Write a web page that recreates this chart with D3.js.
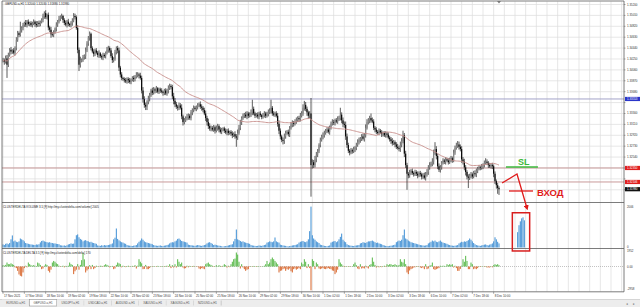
<!DOCTYPE html>
<html>
<head>
<meta charset="utf-8">
<script src="https://cdn.jsdelivr.net/npm/d3@7"></script>
<style>
  html, body { margin: 0; padding: 0; background: #fff; }
  svg { display: block; font-family: "Liberation Sans", "DejaVu Sans", sans-serif; }
</style>
</head>
<body>
<div class="chart"></div>
<script>
// GBPUSD H1 closes, in pips above 1.30000 (bar 0 = 17 Nov 02:00)
var closes = [
  423,420,426,415,432,441,438,440,436,444,458,470,467,476,479,484,488,485,490,486,488,484,
  487,490,486,484,488,486,490,493,500,505,498,502,480,476,468,467,472,478,485,490,495,498,500,493,
  488,485,490,486,484,488,492,500,498,479,441,415,423,423,428,430,440,452,462,469,444,438,434,440,
  436,432,435,430,428,432,430,436,441,444,440,430,423,425,437,444,440,410,398,392,390,388,386,390,
  388,385,389,392,390,394,397,398,396,392,370,355,345,342,350,356,362,370,366,372,370,374,368,372,
  370,368,366,370,365,370,374,378,376,360,352,346,342,340,344,340,325,315,318,322,324,326,322,332,
  336,340,338,342,344,346,342,340,336,330,322,315,308,304,305,302,306,300,304,308,302,298,302,304,
  300,297,300,296,298,295,292,294,290,288,296,305,315,322,326,328,325,330,326,328,332,338,330,326,
  328,325,330,327,324,328,330,326,329,332,335,340,330,328,330,326,312,300,290,284,282,290,296,298,
  294,305,310,314,312,316,318,322,320,326,330,340,345,338,332,326,330,240,245,240,250,258,264,275,
  284,290,292,296,300,302,298,306,312,315,314,318,316,320,322,328,318,312,310,290,275,265,262,266,
  264,268,270,275,280,284,286,290,286,292,305,315,318,322,318,316,305,302,298,296,300,297,294,296,
  292,295,293,288,285,282,278,280,276,272,270,268,275,282,292,260,240,225,222,228,230,226,224,228,
  225,222,226,224,220,222,218,224,228,236,240,242,246,262,268,256,238,232,236,244,248,246,250,248,
  245,250,252,248,262,270,274,276,272,268,250,246,236,228,220,218,222,224,220,226,224,230,234,236,
  235,238,240,244,246,244,240,238,240,238,225,212,205,200,198
];

// wick lengths above / below the body, pips
var upperWicks = [
  4,3,5,6,4,3,5,2,4,3,5,4,3,14,3,4,2,5,3,4,2,3,
  3,4,2,5,3,4,2,3,4,3,5,2,4,3,5,4,3,2,4,3,5,3,4,2,
  3,4,3,5,2,3,4,5,4,3,5,4,6,3,4,3,5,4,3,4,2,3,4,3,
  4,3,5,2,3,4,3,2,5,4,3,4,5,3,4,3,4,5,3,4,2,3,4,3,
  3,4,2,3,4,3,5,4,3,5,4,6,5,4,3,5,4,3,5,4,3,4,2,3,
  3,4,2,3,4,3,5,4,3,4,6,5,4,3,5,4,6,3,4,3,5,4,3,4,
  3,4,3,2,4,3,5,4,3,4,5,4,6,5,4,3,4,3,5,4,3,4,3,2,
  3,4,3,4,2,3,4,3,5,4,6,5,4,3,4,3,5,4,3,4,5,16,4,3,
  3,4,3,4,2,3,4,3,4,5,4,14,3,4,3,4,5,6,4,3,4,5,4,3,
  4,3,5,4,3,4,5,3,4,5,4,6,7,5,4,3,4,27,5,4,6,5,4,3,
  4,3,5,4,3,4,5,3,4,5,4,3,4,5,4,12,4,5,4,6,5,4,3,4,
  3,4,3,4,5,4,3,4,5,4,6,5,4,4,8,5,4,3,4,3,4,3,4,3,
  3,4,3,4,3,4,5,4,3,4,5,4,6,5,8,4,5,4,3,4,3,4,3,4,
  3,4,3,4,3,4,5,4,5,4,5,4,6,5,12,5,4,5,4,3,4,3,4,3,
  4,3,4,3,5,4,5,6,5,4,5,4,5,4,3,4,3,4,3,4,5,4,3,4,
  3,4,3,4,6,4,3,4,3,4,3,4,3,4,3
];
var lowerWicks = [
  4,5,3,23,4,3,5,4,3,5,4,3,4,3,5,4,3,4,5,3,4,3,
  4,3,5,4,3,5,4,3,4,5,3,4,5,4,6,3,4,3,5,4,3,4,3,5,
  4,3,5,4,3,4,5,3,4,3,6,11,5,4,3,4,5,3,4,5,4,3,5,4,
  3,4,5,3,4,5,3,4,3,5,4,3,5,4,3,4,5,6,5,4,3,4,3,4,
  5,3,4,3,5,4,3,4,5,3,5,6,5,6,6,4,5,3,4,3,5,4,3,4,
  4,3,5,4,3,4,5,3,4,5,6,5,4,5,4,3,5,6,4,3,4,5,3,4,
  5,4,3,4,5,3,4,5,4,3,5,6,5,4,5,3,4,5,3,4,5,3,4,3,
  4,3,5,4,3,4,5,3,4,16,4,3,4,5,3,4,3,5,4,3,4,5,3,4,
  3,4,5,3,4,3,5,4,3,4,3,5,4,3,4,3,5,6,5,4,6,5,4,3,
  4,5,3,4,5,3,4,3,5,4,3,4,5,4,6,5,4,55,6,5,4,5,4,3,
  4,3,5,4,3,4,3,5,4,3,4,5,3,4,3,4,5,6,5,6,5,4,5,3,
  4,3,5,4,3,4,5,4,3,5,4,3,4,5,4,3,4,5,4,3,4,3,5,4,
  3,4,5,3,4,5,4,3,5,4,3,4,5,4,4,6,5,28,5,4,5,3,4,3,
  4,5,3,4,5,4,3,5,4,5,4,3,4,5,4,6,5,4,5,4,3,4,5,3,
  4,3,5,4,3,4,3,4,5,4,6,5,5,6,5,18,4,5,4,3,4,5,4,3,
  4,3,5,4,3,4,5,3,4,5,6,5,6,10,10
];

// CLUSTERDELTA VOLUME per bar
var volumes = [
  150,120,180,200,160,220,400,590,300,340,280,260,300,440,400,360,300,
  220,200,180,160,150,140,130,120,150,140,160,250,320,340,300,280,260,
  240,260,230,220,200,200,180,170,160,110,100,90,100,80,110,150,170,200,180,190,
  400,600,640,500,420,380,300,340,360,320,300,260,280,240,220,200,180,
  100,90,80,110,90,120,100,110,120,140,160,200,400,480,930,
  420,350,300,260,240,200,180,120,100,90,80,70,90,100,120,
  200,280,340,440,380,300,260,240,220,200,180,160,
  120,100,90,80,90,100,80,70,90,100,120,140,200,240,260,250,300,340,
  420,440,380,320,300,280,260,240,
  140,120,110,100,90,80,100,120,110,90,80,100,120,140,200,240,260,220,180,
  120,140,120,100,90,80,60,50,60,70,80,100,120,140,160,300,420,880,
  400,360,320,280,300,260,240,220,200,180,
  120,100,90,80,70,80,100,90,80,100,120,140,240,260,300,280,260,300,490,300,260,240,
  140,120,100,90,80,60,50,70,80,100,110,120,140,160,
  240,280,300,320,280,260,300,400,800,2000,600,440,380,300,260,220,
  140,120,100,80,70,60,80,100,240,280,300,320,260,300,400,520,680,380,300,260,
  160,120,100,90,80,70,90,100,110,120,200,220,260,240,220,260,300,300,320,340,300,
  260,220,240,200,180,160,120,100,80,70,60,80,90,100,120,140,260,300,340,320,380,600,880,
  440,400,340,300,260,240,220,200,180,160,140,120,110,100,90,100,120,
  200,240,280,340,300,340,280,260,300,340,280,240,220,200,180,
  140,120,100,90,80,90,100,120,200,240,280,260,300,280,320,360,440,380,300,
  220,160,120,100,90,80,100,120,140,150,120,100,140,160,200,300,500,400,280,200
];

// CLUSTERDELTA DELTA per bar
var deltas = [
  170,100,200,500,300,290,400,290,200,-100,-200,-545,-1000,-1170,-1250,-750,-200,100,-100,
  500,300,170,100,170,100,50,500,400,200,-335,-250,100,290,200,-545,-750,-400,
  500,700,600,400,300,100,-50,50,100,-100,80,60,100,500,300,200,-960,-600,-400,
  300,-400,200,800,1680,900,-750,-500,-335,170,-335,200,-335,-200,100,
  50,-50,100,80,-60,170,290,200,100,-100,50,80,-335,-250,200,500,400,300,-100,100,
  50,-80,60,100,-50,40,80,-60,170,-250,100,920,600,400,-335,-300,200,-335,-335,-200,
  50,-40,60,30,-50,80,40,-30,60,50,-40,70,100,-60,290,-200,170,-125,290,-125,
  920,600,300,500,-125,-250,-200,100,-100,80,50,-60,80,-40,30,-50,-250,-335,-200,-250,
  -335,290,400,500,290,200,100,-50,60,170,50,170,80,-60,100,290,170,-125,100,-80,
  290,600,920,1000,1760,1500,600,-250,290,-125,-335,-545,-400,-335,
  -60,50,-40,70,50,-50,60,40,-30,30,50,100,290,700,290,500,920,1130,920,700,500,290,
  -750,-545,-500,-335,-250,-545,-335,-400,-250,-600,-750,-335,-250,-400,-300,-200,
  -335,500,290,920,600,-200,300,-200,-3000,920,700,-335,500,290,
  -250,-335,-250,-200,-300,-335,-250,-200,-300,-335,-500,-545,-960,-750,-400,
  920,500,290,100,-60,50,40,-40,60,-30,40,290,500,170,-250,-335,290,-250,-200,-250,
  100,-125,-250,200,300,1130,600,200,-125,80,-100,60,-80,50,100,-60,
  290,170,290,290,170,200,290,170,100,200,920,600,500,920,300,-750,-960,-500,
  -335,-250,-125,-100,50,-60,40,-125,-200,-125,-335,290,-335,-250,100,170,500,
  -335,-420,-335,-250,-200,100,60,100,80,50,290,170,290,200,290,-125,100,-200,
  -545,-545,-300,100,920,600,1340,700,-335,-335,500,290,-335,-250,-335,-200,
  50,-60,40,30,-50,60,-125,-100,-125,50,-100,170,290,200,290,170
];

// hand-drawn projected volume inside the red box (future bars 386..391)
var projVolumes = [750, 1090, 1280, 1425, 1475, 1330];

var timeLabels = [
  "17 Nov 2021", "17 Nov 18:00", "18 Nov 10:00", "19 Nov 02:00", "19 Nov 18:00",
  "22 Nov 10:00", "23 Nov 02:00", "23 Nov 18:00", "24 Nov 10:00", "25 Nov 02:00",
  "25 Nov 18:00", "26 Nov 10:00", "29 Nov 02:00", "29 Nov 18:00", "30 Nov 10:00",
  "1 Dec 02:00", "1 Dec 18:00", "2 Dec 10:00", "3 Dec 02:00", "3 Dec 18:00",
  "6 Dec 10:00", "7 Dec 02:00", "7 Dec 18:00", "8 Dec 10:00"
];

var priceTicks = [
  1.35200, 1.35010, 1.34820, 1.34630, 1.34440, 1.34250, 1.34060, 1.33870, 1.33680,
  1.33490, 1.33300, 1.33110, 1.32920, 1.32730, 1.32540, 1.32350, 1.32160, 1.31970
];

// horizontal levels drawn on the chart
var levelPrices = [1.33553, 1.32350, 1.32106];

var tabNames = ["EURUSD.a,H1", "GBPUSD.a,H1", "USDJPY.a,H1", "USDCAD.a,H1",
                "AUDUSD.a,H1", "XAUUSD.a,H1", "XAGUSD.a,H1", "NZDUSD.a,H1"];

(function () {

  var width = 640, height = 307;
  var plotLeft = 2, plotRight = 624;

  var svg = d3.select(".chart")
    .append("svg")
    .attr("width", width)
    .attr("height", height);

  // scales
  var x = d3.scaleLinear().domain([0, 372]).range([3, 499]);
  var yPrice = d3.scaleLinear().domain([1.31757, 1.35200]).range([202, 4.5]);
  var yVol = d3.scaleLinear().domain([0, 2006]).range([247.5, 206.5]);
  var yDelta = d3.scaleLinear().domain([-2958, 1952]).range([290, 251]);

  function toPrice(p) { return 1.3 + p / 10000; }

  var bars = closes.map(function (c, i) {
    var o = i ? closes[i - 1] : c;
    return {
      i: i, o: toPrice(o), c: toPrice(c),
      h: toPrice(Math.max(o, c) + upperWicks[i]),
      l: toPrice(Math.min(o, c) - lowerWicks[i])
    };
  });

  // simple moving average, 50 bars
  var maPeriod = 50;
  var ma = bars.map(function (d, i) {
    var from = Math.max(0, i - maPeriod + 1);
    return { i: i, v: d3.mean(bars.slice(from, i + 1), function (b) { return b.c; }) };
  });

  var defs = svg.append("defs");
  defs.append("clipPath").attr("id", "clipPrice")
    .append("rect").attr("x", plotLeft).attr("y", 1.5).attr("width", plotRight - plotLeft).attr("height", 200.5);
  defs.append("marker").attr("id", "arrowRed")
    .attr("viewBox", "0 0 10 10").attr("refX", 6).attr("refY", 5)
    .attr("markerWidth", 4).attr("markerHeight", 4).attr("orient", "auto")
    .append("path").attr("d", "M0,0 L10,5 L0,10 z").attr("fill", "#e01b1b");

  // grid
  var grid = svg.append("g").attr("class", "grid");
  grid.selectAll("line.v")
    .data(d3.range(0, 466, 8))
    .enter().append("line")
    .attr("x1", function (d) { return x(d); })
    .attr("x2", function (d) { return x(d); })
    .attr("y1", 1.5).attr("y2", 291.5)
    .attr("stroke", "#dcdcdc").attr("stroke-width", 0.7);
  grid.selectAll("line.h")
    .data(priceTicks)
    .enter().append("line")
    .attr("x1", plotLeft).attr("x2", plotRight)
    .attr("y1", function (d) { return yPrice(d); })
    .attr("y2", function (d) { return yPrice(d); })
    .attr("stroke", "#dcdcdc").attr("stroke-width", 0.7);

  // level lines
  var levelColors = ["#a3a3c9", "#c99a9a", "#c99a9a"];
  var levelBoxes = ["#2a35c9", "#e01e1e", "#e01e1e"];
  svg.append("g").selectAll("line")
    .data(levelPrices)
    .enter().append("line")
    .attr("x1", plotLeft).attr("x2", plotRight)
    .attr("y1", function (d) { return yPrice(d); })
    .attr("y2", function (d) { return yPrice(d); })
    .attr("stroke", function (d, i) { return levelColors[i]; })
    .attr("stroke-width", 1);

  // candles
  var price = svg.append("g").attr("clip-path", "url(#clipPrice)");
  price.selectAll("line.wick")
    .data(bars)
    .enter().append("line")
    .attr("x1", function (d) { return x(d.i); })
    .attr("x2", function (d) { return x(d.i); })
    .attr("y1", function (d) { return yPrice(d.h); })
    .attr("y2", function (d) { return yPrice(d.l); })
    .attr("stroke", "#333").attr("stroke-width", 0.8);
  price.selectAll("rect.body")
    .data(bars)
    .enter().append("rect")
    .attr("x", function (d) { return x(d.i) - 0.55; })
    .attr("width", 1.1)
    .attr("y", function (d) { return yPrice(Math.max(d.o, d.c)); })
    .attr("height", function (d) { return Math.max(0.6, Math.abs(yPrice(d.o) - yPrice(d.c))); })
    .attr("fill", function (d) { return d.c >= d.o ? "#8a8a8a" : "#000"; });

  // moving average
  price.append("path")
    .datum(ma)
    .attr("fill", "none")
    .attr("stroke", "#c8908c")
    .attr("stroke-width", 0.9)
    .attr("d", d3.line().x(function (d) { return x(d.i); }).y(function (d) { return yPrice(d.v); }));

  // volume bars
  svg.append("g").selectAll("rect")
    .data(volumes)
    .enter().append("rect")
    .attr("x", function (d, i) { return x(i) - 0.5; })
    .attr("width", 1)
    .attr("y", function (d) { return yVol(d); })
    .attr("height", function (d) { return yVol(0) - yVol(d); })
    .attr("fill", "#3f8fd4");

  // projected volume (annotation)
  svg.append("g").selectAll("rect")
    .data(projVolumes)
    .enter().append("rect")
    .attr("x", function (d, i) { return x(386 + i) - 0.5; })
    .attr("width", 1)
    .attr("y", function (d) { return yVol(d); })
    .attr("height", function (d) { return yVol(0) - yVol(d); })
    .attr("fill", "#3f8fd4");

  // delta bars
  svg.append("line")
    .attr("x1", plotLeft).attr("x2", plotRight)
    .attr("y1", yDelta(0)).attr("y2", yDelta(0))
    .attr("stroke", "#9a9a9a").attr("stroke-width", 0.6).attr("stroke-dasharray", "1,1");
  svg.append("g").selectAll("rect")
    .data(deltas)
    .enter().append("rect")
    .attr("x", function (d, i) { return x(i) - 0.5; })
    .attr("width", 1)
    .attr("y", function (d) { return yDelta(Math.max(0, d)); })
    .attr("height", function (d) { return Math.abs(yDelta(d) - yDelta(0)); })
    .attr("fill", function (d) { return d >= 0 ? "#55b846" : "#d8652a"; });

  // panel frames
  var frame = svg.append("g").attr("stroke", "#5a5a5a").attr("stroke-width", 0.8);
  [1, 202.5, 248.5, 291.8].forEach(function (yy) {
    frame.append("line").attr("x1", plotLeft).attr("x2", plotRight).attr("y1", yy).attr("y2", yy);
  });
  frame.append("line").attr("x1", plotLeft).attr("x2", plotLeft).attr("y1", 1).attr("y2", 291.8);
  frame.append("line").attr("x1", plotRight).attr("x2", plotRight).attr("y1", 1).attr("y2", 291.8);

  // chart shift marker
  svg.append("path")
    .attr("d", "M" + (x(372) - 2) + ",1 L" + (x(372) + 2) + ",1 L" + x(372) + ",3.5 z")
    .attr("fill", "#777");

  // right price axis labels
  var fmt = d3.format(".5f");
  var highlighted = levelPrices.concat([bars[bars.length - 1].c]);
  var axisText = svg.append("g").attr("font-size", 2.9).attr("fill", "#333");
  priceTicks.forEach(function (p) {
    var yy = yPrice(p);
    var hidden = highlighted.some(function (h) { return Math.abs(yPrice(h) - yy) < 4.5; });
    axisText.append("line").attr("x1", plotRight).attr("x2", plotRight + 1.5)
      .attr("y1", yy).attr("y2", yy).attr("stroke", "#555").attr("stroke-width", 0.5);
    if (!hidden) {
      axisText.append("text").attr("x", 627).attr("y", yy + 1).text(fmt(p));
    }
  });
  var boxColors = levelBoxes.concat(["#111"]);
  highlighted.forEach(function (p, i) {
    var yy = yPrice(p);
    svg.append("rect").attr("x", 625).attr("y", yy - 2.1).attr("width", 15).attr("height", 4.2)
      .attr("fill", boxColors[i]);
    svg.append("text").attr("x", 627).attr("y", yy + 1).attr("font-size", 2.9)
      .attr("fill", "#fff").text(fmt(p));
  });

  // sub-window axis labels
  var sub = [[yVol(2006) + 1, "2006"], [yVol(0), "0"], [yDelta(1952) + 1, "1952"],
             [yDelta(0) + 1, "0.00"], [yDelta(-2958), "-2958"]];
  sub.forEach(function (s) {
    axisText.append("text").attr("x", 627).attr("y", s[0]).text(s[1]);
  });

  // titles
  var last = bars[bars.length - 1];
  var titles = svg.append("g").attr("font-size", 2.9).attr("fill", "#222");
  titles.append("text").attr("x", 5).attr("y", 5)
    .text("GBPUSD.a,H1  " + fmt(last.o) + " " + fmt(last.h) + " " + fmt(last.l) + " " + fmt(last.c));
  titles.append("text").attr("x", 3).attr("y", 207.5)
    .text("CLUSTERDELTA VOLUME 3.5 [§] http://my.clusterdelta.com/volume] 2005");
  titles.append("text").attr("x", 3).attr("y", 253.5)
    .text("CLUSTERDELTA DELTA 3.5 [§] http://my.clusterdelta.com/delta] " + deltas[deltas.length - 1]);

  // time axis
  var timeAxis = svg.append("g").attr("font-size", 2.9).attr("fill", "#333");
  timeLabels.forEach(function (t, k) {
    var xx = x(k * 16);
    timeAxis.append("line").attr("x1", xx).attr("x2", xx).attr("y1", 291.8).attr("y2", 293.8)
      .attr("stroke", "#555").attr("stroke-width", 0.5);
    timeAxis.append("text").attr("x", xx + 1).attr("y", 296.8).text(t);
  });

  // tabs bar
  svg.append("rect").attr("x", 0).attr("y", 299.5).attr("width", width).attr("height", 7.5)
    .attr("fill", "#ededed");
  svg.append("line").attr("x1", 0).attr("x2", width).attr("y1", 299.5).attr("y2", 299.5)
    .attr("stroke", "#b5b5b5").attr("stroke-width", 0.5);
  var tabW = 27.4;
  var tabs = svg.append("g").selectAll("g")
    .data(tabNames)
    .enter().append("g")
    .attr("transform", function (d, i) { return "translate(" + (2 + i * tabW) + ",299.5)"; });
  tabs.append("rect")
    .attr("width", tabW).attr("height", 6.5)
    .attr("fill", function (d, i) { return i === 1 ? "#fff" : "#ededed"; })
    .attr("stroke", function (d, i) { return i === 1 ? "#8a8a8a" : "none"; })
    .attr("stroke-width", 0.5);
  tabs.append("line")
    .attr("x1", tabW).attr("x2", tabW).attr("y1", 1).attr("y2", 6)
    .attr("stroke", "#a5a5a5").attr("stroke-width", 0.5);
  tabs.append("text")
    .attr("x", tabW / 2).attr("y", 4.4).attr("text-anchor", "middle")
    .attr("font-size", 2.9).attr("fill", "#555")
    .text(function (d) { return d; });
  svg.append("text").attr("x", 626).attr("y", 305).attr("font-size", 3.5).attr("fill", "#777").text("◂");
  svg.append("text").attr("x", 633).attr("y", 305).attr("font-size", 3.5).attr("fill", "#777").text("▸");

  // hand-drawn annotation (in bar / price coordinates)
  var slLine = [[377.2, 1.32367], [401.2, 1.32367]];
  var entryPath = [[374.3, 1.32089], [385.5, 1.32245], [393.0, 1.31648]];
  var entryLine = [[379.5, 1.31949], [397.5, 1.31949]];
  var ann = svg.append("g");
  var pline = d3.line().x(function (d) { return x(d[0]); }).y(function (d) { return yPrice(d[1]); });
  ann.append("path").attr("d", pline(slLine)).attr("stroke", "#3cb83c").attr("stroke-width", 1.3).attr("fill", "none");
  ann.append("text").attr("x", x(386.2)).attr("y", yPrice(1.32402))
    .attr("font-size", 9).attr("font-weight", "bold").attr("fill", "#3cb83c").text("SL");
  ann.append("path").attr("d", pline(entryPath)).attr("stroke", "#e01b1b").attr("stroke-width", 1.3)
    .attr("fill", "none").attr("marker-end", "url(#arrowRed)");
  ann.append("path").attr("d", pline(entryLine)).attr("stroke", "#e01b1b").attr("stroke-width", 1.3).attr("fill", "none");
  ann.append("text").attr("x", x(400.5)).attr("y", yPrice(1.31862))
    .attr("font-size", 9.5).attr("font-weight", "bold").attr("fill", "#e01b1b").text("ВХОД");
  ann.append("rect")
    .attr("x", x(382)).attr("y", yVol(1700))
    .attr("width", x(395) - x(382)).attr("height", yVol(-170) - yVol(1700))
    .attr("fill", "none").attr("stroke", "#d81e1e").attr("stroke-width", 1.5);

})();
</script>
</body>
</html>
